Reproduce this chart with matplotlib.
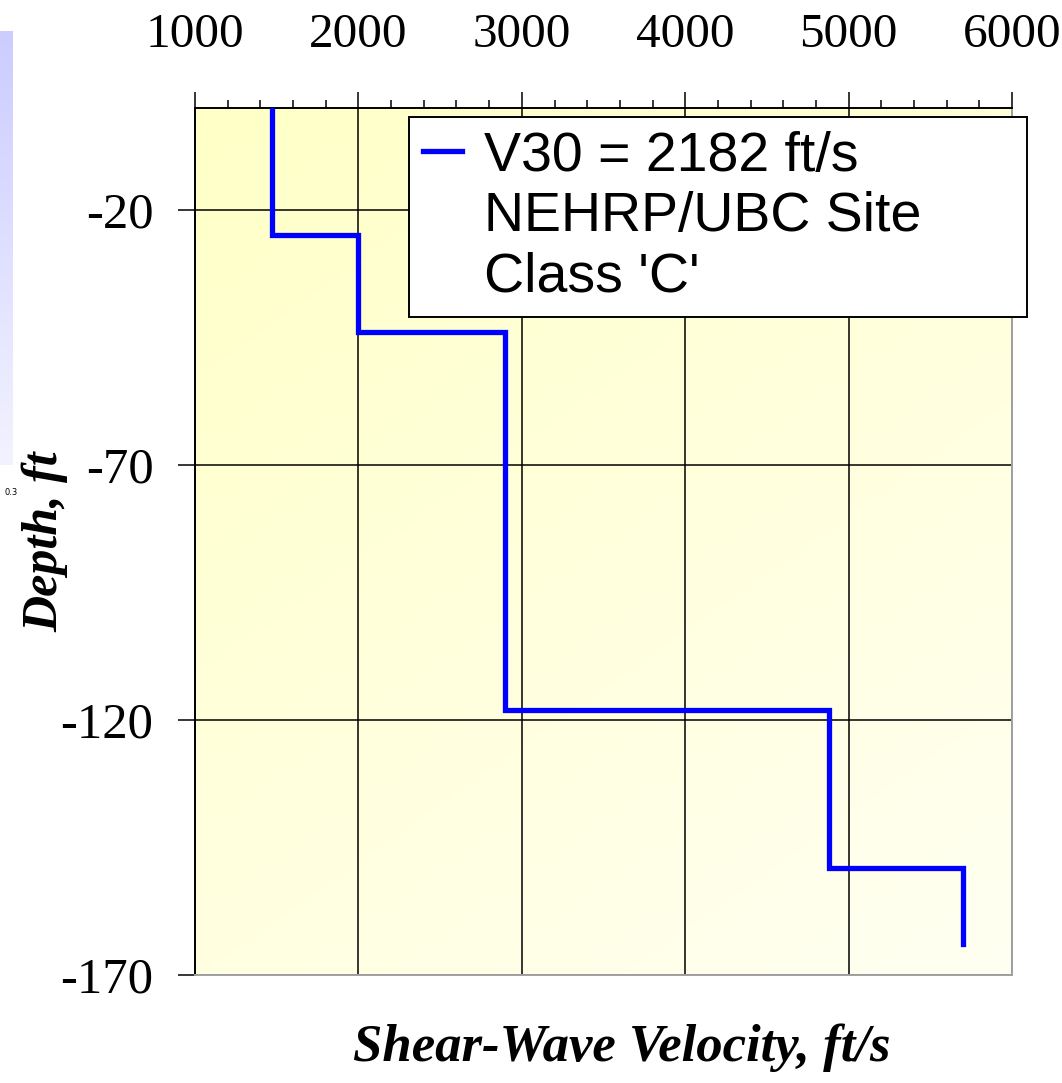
import numpy as np
import matplotlib.pyplot as plt
from matplotlib.lines import Line2D

plt.rcParams['axes.unicode_minus'] = False

# step profile: velocity (ft/s) of each layer and depth (ft) of its top/bottom
velocity = [1470, 2000, 2900, 4880, 5700]
layer_top = [0, -25, -44, -118, -149]
layer_bot = [-25, -44, -118, -149, -164]

legend_lines = ["V30 = 2182 ft/s", "NEHRP/UBC Site", "Class 'C'"]
x_ticks = [1000, 2000, 3000, 4000, 5000, 6000]
y_ticks = [-20, -70, -120, -170]

# build the stepped line from the layers
xs, ys = [], []
for v, t, b in zip(velocity, layer_top, layer_bot):
    xs += [v, v]
    ys += [t, b]

fig = plt.figure(figsize=(10.62, 10.83), dpi=100)
fig.patch.set_facecolor('white')

# bit of the neighbouring slide panel at the left edge
panel = np.linspace(0, 1, 100).reshape(-1, 1)
pax = fig.add_axes([0, 0.571, 0.012, 0.40])
pax.imshow(np.dstack([0.80 + 0.15 * panel, 0.80 + 0.15 * panel, np.ones_like(panel)]),
           aspect='auto', extent=[0, 1, 0, 1])
pax.set_axis_off()
fig.text(0.004, 0.543, '0.3', fontsize=6, family='Liberation Sans Narrow')

ax = fig.add_axes([0.1836, 0.0997, 0.7694, 0.8006])

# yellow gradient background
grad = np.linspace(0, 1, 256).reshape(-1, 1) * np.ones((1, 256))
grad = grad * 0.6 + np.linspace(0, 1, 256).reshape(1, -1) * 0.4
bg = np.zeros((256, 256, 3))
bg[..., 0] = 1.0
bg[..., 1] = 1.0
bg[..., 2] = 0.78 + 0.17 * grad
ax.imshow(bg, extent=[1000, 6000, -170, 0], aspect='auto', zorder=0)

ax.plot(xs, ys, color='#0000ff', lw=3.8, solid_joinstyle='miter', zorder=3)

ax.set_xlim(1000, 6000)
ax.set_ylim(-170, 0)
ax.xaxis.tick_top()
ax.set_xticks(x_ticks)
ax.set_xticks(np.arange(1000, 6001, 200), minor=True)
ax.set_yticks(y_ticks)
ax.grid(True, color='black', lw=1.1, zorder=1)
ax.tick_params(axis='x', which='major', length=11.5, width=1.1, direction='out', pad=25)
ax.tick_params(axis='x', which='minor', length=6, width=1.1, direction='out')
ax.tick_params(axis='y', length=12, width=1.1, direction='out', pad=18)
for lab in ax.get_xticklabels():
    lab.set_fontfamily('Liberation Serif')
    lab.set_fontsize(35.5)
for lab in ax.get_yticklabels():
    lab.set_fontfamily('Liberation Serif')
    lab.set_fontsize(36.5)

ax.spines['top'].set_color('black')
ax.spines['left'].set_color('black')
ax.spines['right'].set_color('#a0a0a0')
ax.spines['bottom'].set_color('#a0a0a0')
for s in ax.spines.values():
    s.set_linewidth(1.4)

ax.set_ylabel('Depth, ft', family='Liberation Serif', style='italic',
              weight='bold', fontsize=36)
ax.yaxis.set_label_coords(-0.155, 0.5)
fig.text(0.585, 0.02, 'Shear-Wave Velocity, ft/s', family='Liberation Serif',
         style='italic', weight='bold', fontsize=38, ha='center')

# legend: line on the first row, the other two rows are continuation text
handles = [Line2D([], [], color='#0000ff', lw=3.8),
           Line2D([], [], color='none'),
           Line2D([], [], color='none')]
leg = ax.legend(handles, legend_lines, loc='upper left',
                bbox_to_anchor=(0.262, 0.99, 0.756, 0), mode='expand',
                prop={'family': 'Liberation Sans', 'size': 40},
                handlelength=0.7, handletextpad=0.4, borderpad=0.25,
                labelspacing=0.15, fancybox=False, framealpha=1,
                edgecolor='black', borderaxespad=0)
leg.get_frame().set_linewidth(1.4)
leg.set_zorder(5)

fig.savefig('out.png', dpi=100)
